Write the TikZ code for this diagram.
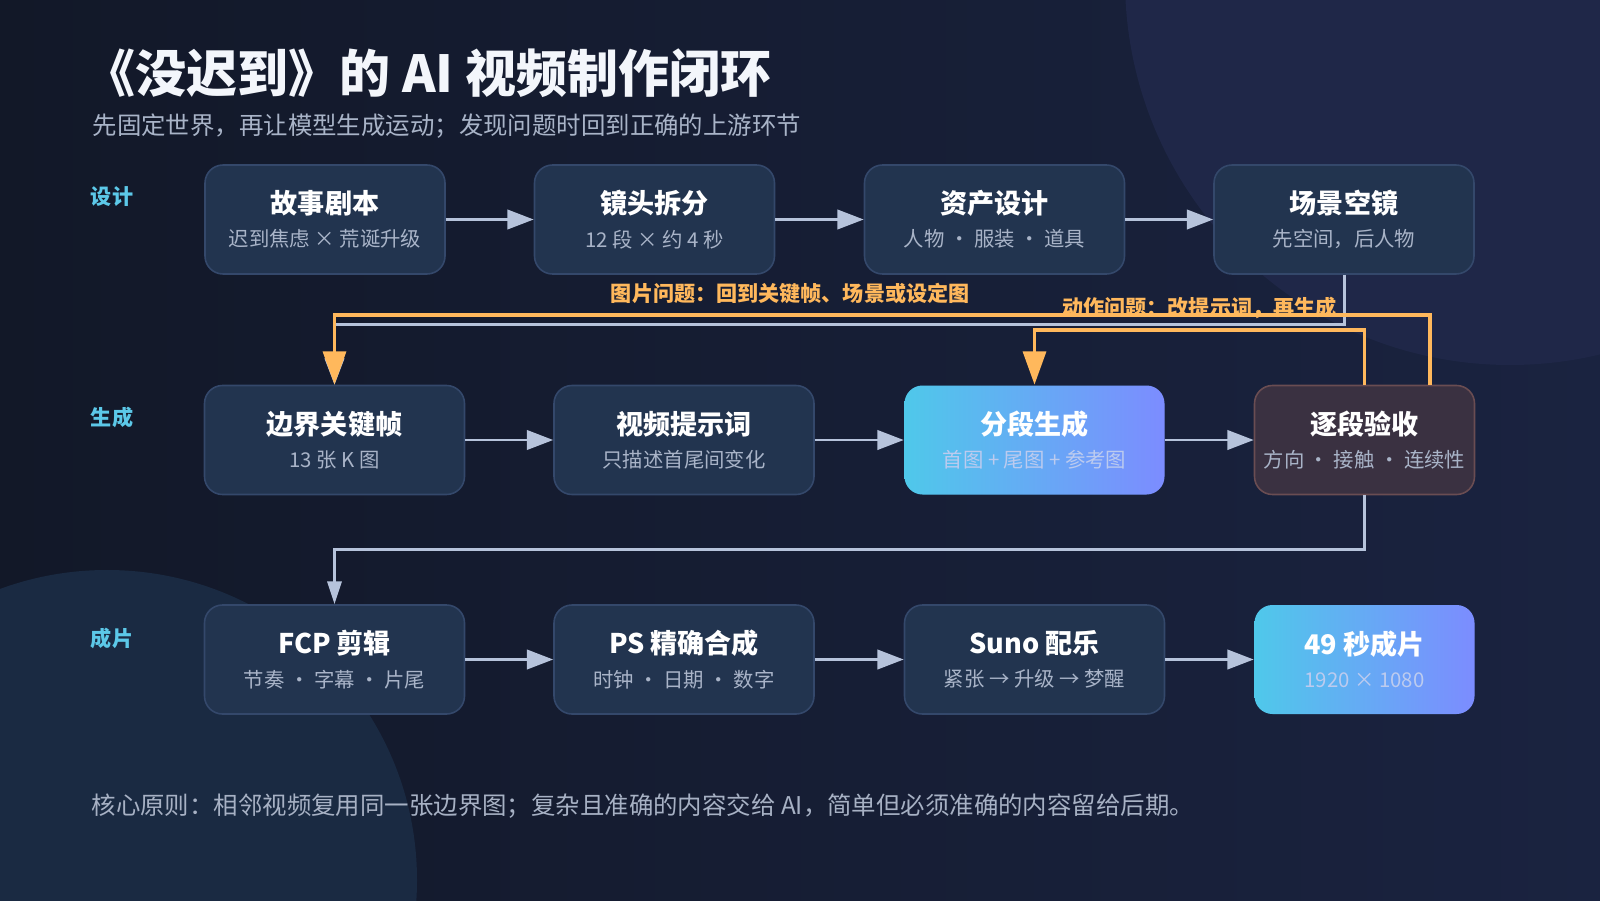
\documentclass[tikz,border=0pt]{standalone}
\usepackage{fontspec}
\setmainfont{Noto Sans CJK SC}
\usetikzlibrary{arrows.meta,positioning}
\definecolor{bgleft}{HTML}{121828}
\definecolor{bgright}{HTML}{1A2340}
\definecolor{blobtop}{HTML}{1F2748}
\definecolor{blobbottom}{HTML}{1A2A42}
\definecolor{boxfill}{HTML}{22344F}
\definecolor{boxline}{HTML}{34486B}
\definecolor{checkfill}{HTML}{3A3141}
\definecolor{checkline}{HTML}{6A4D52}
\definecolor{gradleft}{HTML}{4FC8EA}
\definecolor{gradright}{HTML}{7C8CFF}
\definecolor{subgray}{HTML}{A9B4C8}
\definecolor{subfaint}{HTML}{BCCBEF}
\definecolor{linegray}{HTML}{B6C3DB}
\definecolor{fborange}{HTML}{FFB85C}
\definecolor{rowcyan}{HTML}{5CC8E8}
\definecolor{titlewhite}{HTML}{F3F6FB}
\definecolor{notegray}{HTML}{A7B1C4}

\newcommand{\stage}[3][subgray]{{\fontsize{7.7}{9}\selectfont\bfseries #2}\\[-2.5pt]{\fontsize{5.8}{7}\selectfont\color{#1}#3}}

\begin{document}
\begin{tikzpicture}[
  box/.style={draw=boxline, line width=0.45pt, fill=boxfill, rounded corners=0.18cm,
    minimum width=2.6cm, minimum height=1.09cm, inner sep=0pt, align=center, text=white},
  gbox/.style={box, draw=none, left color=gradleft, right color=gradright},
  arr/.style={-{Triangle[length=7.5pt,width=5.5pt]}, line width=0.85pt, linegray},
  fb/.style={-{Triangle[length=9.5pt,width=6.5pt]}, line width=1.1pt, fborange},
  fbnote/.style={font=\fontsize{6}{7}\selectfont\bfseries, text=fborange, yshift=-0.8pt},
  row/.style={font=\fontsize{6}{7}\selectfont\bfseries, text=rowcyan},
]
\useasboundingbox (0,0) rectangle (16,9);
% background and the two soft discs
\shade[left color=bgleft, right color=bgright] (0,0) rectangle (16,9);
\begin{scope}
  \clip (0,0) rectangle (16,9);
  \fill[blobtop] (15.1,9.2) circle (3.85);
  \fill[blobbottom] (1.07,0.2) circle (3.1);
\end{scope}

% heading
\node[anchor=west, inner sep=0pt, text=titlewhite, font=\fontsize{14.5}{16}\selectfont\bfseries] (title) at (0.84,8.27) {《没迟到》的 AI 视频制作闭环};
\node[anchor=west, inner sep=0pt, text=subgray, font=\fontsize{6.95}{9}\selectfont] (subtitle) at (0.92,7.74) {先固定世界，再让模型生成运动；发现问题时回到正确的上游环节};

% row labels
\node[row] (rdesign) at (1.12,7.03) {设计};
\node[row] (rgen) at (1.12,4.83) {生成};
\node[row] (rout) at (1.12,2.62) {成片};

% design row
\node[box, minimum width=2.4cm] (story) at (3.25,6.805) {\stage{故事剧本}{迟到焦虑 × 荒诞升级}};
\node[box, minimum width=2.4cm] (shot) at (6.545,6.805) {\stage{镜头拆分}{12 段 × 约 4 秒}};
\node[box] (asset) at (9.945,6.805) {\stage{资产设计}{人物 · 服装 · 道具}};
\node[box] (scene) at (13.44,6.805) {\stage{场景空镜}{先空间，后人物}};

% generation row
\node[box] (key) at (3.345,4.6) {\stage{边界关键帧}{13 张 K 图}};
\node[box] (prompt) at (6.84,4.6) {\stage{视频提示词}{只描述首尾间变化}};
\node[gbox] (gen) at (10.345,4.6) {\stage[subfaint]{分段生成}{首图 + 尾图 + 参考图}};
\node[box, fill=checkfill, draw=checkline, minimum width=2.2cm] (check) at (13.645,4.6) {\stage{逐段验收}{方向 · 接触 · 连续性}};

% output row
\node[box] (fcp) at (3.345,2.405) {\stage{FCP 剪辑}{节奏 · 字幕 · 片尾}};
\node[box] (ps) at (6.84,2.405) {\stage{PS 精确合成}{时钟 · 日期 · 数字}};
\node[box] (suno) at (10.345,2.405) {\stage{Suno 配乐}{紧张 → 升级 → 梦醒}};
\node[gbox, minimum width=2.2cm] (final) at (13.645,2.405) {\stage[subfaint]{49 秒成片}{1920 × 1080}};

% flow
\draw[arr] (story) -- (shot);
\draw[arr] (shot) -- (asset);
\draw[arr] (asset) -- (scene);
\draw[arr] (scene.south) -- ++(0,-0.5) -| (key.north);
\draw[arr] (key) -- (prompt);
\draw[arr] (prompt) -- (gen);
\draw[arr] (gen) -- (check);
\draw[arr, -{Triangle[length=6.5pt,width=4pt]}] (check.south) -- ++(0,-0.54) -| (fcp.north);
\draw[arr] (fcp) -- (ps);
\draw[arr] (ps) -- (suno);
\draw[arr] (suno) -- (final);

% feedback loops
\draw[fb] ([xshift=0.655cm]check.north) -- ++(0,0.7) -| node[pos=0.292, above, fbnote] {图片问题：回到关键帧、场景或设定图} (key.north);
\draw[fb] (check.north) -- ++(0,0.55) -| node[pos=0.25, above, fbnote] {动作问题：改提示词，再生成} (gen.north);

\node[anchor=west, inner sep=0pt, text=notegray, font=\fontsize{6.95}{9}\selectfont] (note) at (0.91,0.94) {核心原则：相邻视频复用同一张边界图；复杂且准确的内容交给 AI，简单但必须准确的内容留给后期。};
\end{tikzpicture}
\end{document}
